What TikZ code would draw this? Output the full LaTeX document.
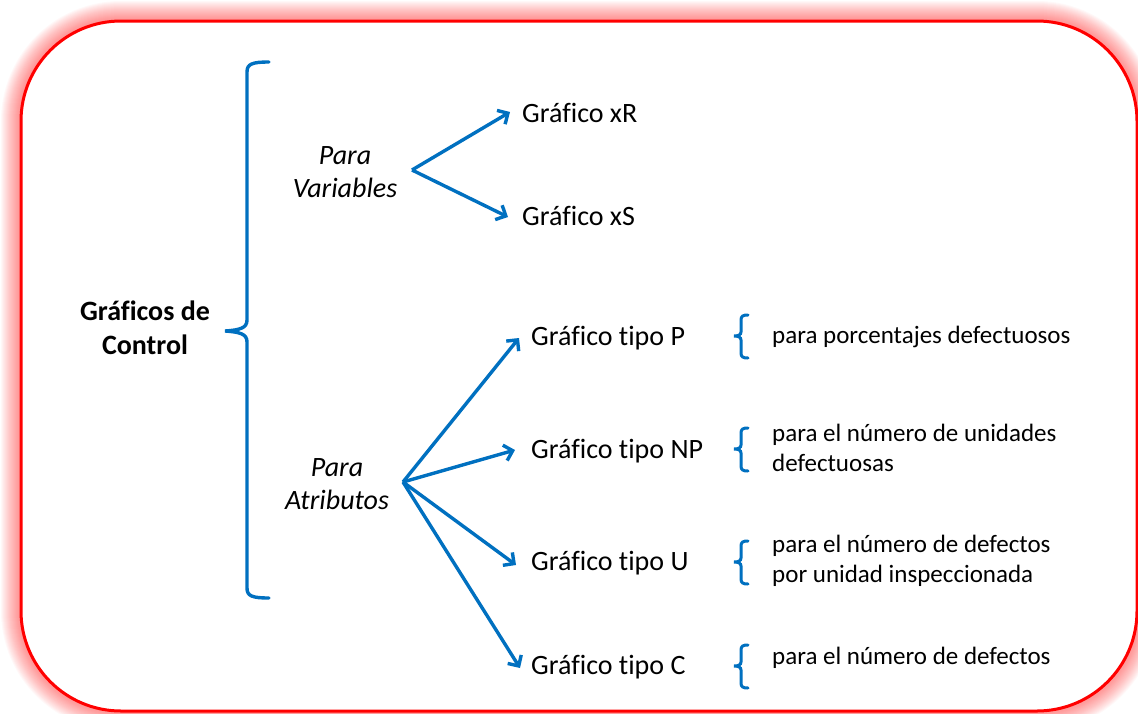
\documentclass[tikz,border=0pt]{standalone}
\usepackage{fontspec}
\setmainfont{Carlito}[Ligatures=NoCommon]
\usetikzlibrary{arrows.meta}
\definecolor{obrace}{RGB}{0,112,192}
\definecolor{frame}{RGB}{255,0,0}
\tikzset{
  lbl/.style={anchor=west,inner sep=0pt,font=\fontsize{28}{33}\selectfont},
  desc/.style={anchor=west,inner sep=0pt,align=left,font=\fontsize{25}{30}\selectfont},
  cat/.style={inner sep=0pt,align=center,font=\itshape\fontsize{28}{33}\selectfont},
  arr/.style={draw=obrace,line width=3.4pt,-{Straight Barb[length=8pt,width=16pt,line width=3.4pt]}},
  brc/.style={draw=obrace,line width=3.4pt,line cap=round},
}
\begin{document}
\begin{tikzpicture}[x=1pt,y=-1pt]
\useasboundingbox (0,0) rectangle (1138,713);
% glow
\foreach \w in {40,38,...,6}{
  \draw[frame,line width=\w pt,opacity=0.028,rounded corners=100pt] (21,21) rectangle (1137,711);
}
\fill[white,rounded corners=100pt] (21,21) rectangle (1137,711);
\draw[frame,line width=3pt,rounded corners=100pt] (21,21) rectangle (1137,711);

% main label
\node[inner sep=0pt,align=center,font=\bfseries\fontsize{28}{34}\selectfont] (gc) at (145,328) {Gráficos de\\Control};
% big brace
\draw[brc] (269,62) .. controls (252,62) and (247,64) .. (247,72) -- (247,320) .. controls (247,328) and (240,330) .. (225,331) .. controls (240,332) and (247,334) .. (247,342) -- (247,588) .. controls (247,596) and (252,598) .. (269,598);

% categories
\node[cat] (var) at (345,172) {Para\\Variables};
\node[cat] (atr) at (337,484) {Para\\Atributos};
\coordinate (vo) at (412,170);
\coordinate (ao) at (403,482);

% chart nodes
\node[lbl] (xr) at (522,113) {Gráfico xR};
\node[lbl] (xs) at (522,216) {Gráfico xS};
\node[lbl] (p) at (531,338) {Gráfico tipo P};
\node[lbl] (np) at (531,451) {Gráfico tipo NP};
\node[lbl] (u) at (531,563) {Gráfico tipo U};
\node[lbl] (c) at (531,667) {Gráfico tipo C};

\draw[arr] (vo) -- ([xshift=-12pt,yshift=1pt]xr.west);
\draw[arr] (vo) -- ([xshift=-14pt,yshift=-1pt]xs.west);
\draw[arr] (ao) -- ([xshift=-12pt]p.west);
\draw[arr] (ao) -- ([xshift=-16pt,yshift=1pt]np.west);
\draw[arr] (ao) -- ([xshift=-15pt,yshift=-2pt]u.west);
\draw[arr] (ao) -- ([xshift=-11pt,yshift=-1pt]c.west);

% small braces and descriptions
\foreach \n/\y in {bp/336,bnp/449,bu/562,bc/666}{
  \draw[brc,line width=3pt] (748,\y-21) .. controls (743,\y-21) and (741,\y-20) .. (741,\y-16) -- (741,\y-4) .. controls (741,\y-1) and (738,\y) .. (734,\y) .. controls (738,\y) and (741,\y+1) .. (741,\y+4) -- (741,\y+17) .. controls (741,\y+21) and (743,\y+22) .. (748,\y+22);
}
\node[desc] (dp) at (772,337) {para porcentajes defectuosos};
\node[desc] (dnp) at (772,448) {para el número de unidades\\defectuosas};
\node[desc] (du) at (772,561) {para el número de defectos\\por unidad inspeccionada};
\node[desc] (dc) at (772,658) {para el número de defectos};
\end{tikzpicture}
\end{document}
